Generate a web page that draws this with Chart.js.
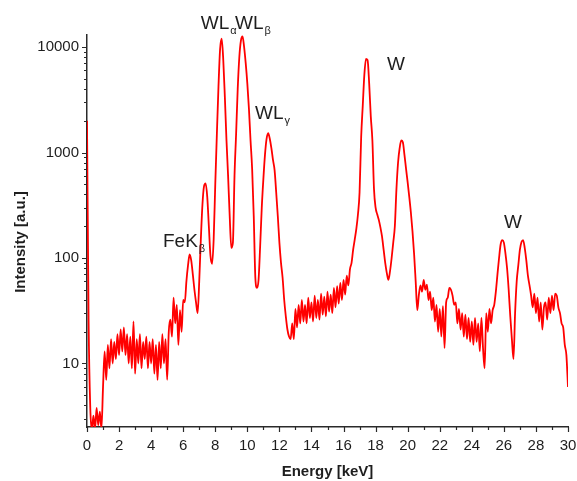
<!DOCTYPE html>
<html>
<head>
<meta charset="utf-8">
<script src="https://cdn.jsdelivr.net/npm/chart.js@4.4.0/dist/chart.umd.min.js"></script>
<style>
  html, body { margin: 0; padding: 0; background: #ffffff; }
  #wrap { width: 577px; height: 481px; position: relative; }
</style>
</head>
<body>
<div id="wrap"><canvas id="spectrum"></canvas></div>
<script>
// Energy calibration of the detector channels (keV per channel, starting at 0 keV)
const keVPerChannel = 0.1;

// Measured counts per channel, 0.0 ... 30.0 keV
const intensity = [
  // 0.0 - 0.9
  2000, 25, 4, 2.3, 3.2, 2.4, 3.8, 2.6, 3.5, 2.4,
  // 1.0 - 1.9
  6, 13, 7, 15, 9, 17, 10, 16, 11, 19,
  // 2.0 - 2.9
  12, 21, 13, 22, 12, 19, 10, 18, 9, 25,
  // 3.0 - 3.9
  8, 17, 10, 19, 9, 16, 11, 18, 9, 16,
  // 4.0 - 4.9
  10, 17, 8, 15, 7, 16, 9, 19, 10, 17,
  // 5.0 - 5.9
  7, 20, 26, 18, 42, 24, 36, 15, 32, 20,
  // 6.0 - 6.9
  40, 38, 60, 85, 108, 95, 70, 50, 38, 30,
  // 7.0 - 7.9
  60, 150, 320, 480, 510, 380, 200, 105, 88, 150,
  // 8.0 - 8.9
  500, 1500, 4200, 9500, 12000, 7500, 3300, 1300, 600, 250,
  // 9.0 - 9.9
  125, 140, 600, 1500, 4000, 8000, 11500, 12600, 10000, 7000,
  // 10.0 - 10.9
  4500, 2600, 1300, 700, 250, 65, 52, 62, 130, 300,
  // 11.0 - 11.9
  560, 950, 1350, 1530, 1350, 1100, 850, 680, 420, 250,
  // 12.0 - 12.9
  140, 90, 65, 40, 28, 21, 18, 17, 24, 17,
  // 13.0 - 13.9
  33, 22, 36, 24, 40, 25, 36, 24, 42, 27,
  // 14.0 - 14.9
  38, 25, 44, 27, 40, 26, 46, 29, 43, 28,
  // 15.0 - 15.9
  48, 31, 45, 30, 52, 34, 54, 37, 58, 40,
  // 16.0 - 16.9
  62, 45, 68, 55, 78, 90, 120, 150, 190, 260,
  // 17.0 - 17.9
  420, 1400, 2800, 5500, 7700, 7500, 4500, 2200, 1300, 450,
  // 18.0 - 18.9
  300, 260, 230, 195, 160, 120, 90, 72, 62, 75,
  // 19.0 - 19.9
  100, 140, 200, 450, 800, 1100, 1300, 1250, 950, 700,
  // 20.0 - 20.9
  520, 380, 270, 180, 110, 60, 32, 45, 55, 48,
  // 21.0 - 21.9
  62, 50, 56, 40, 48, 32, 42, 25, 36, 20,
  // 22.0 - 22.9
  33, 18, 35, 14, 38, 42, 52, 50, 44, 36,
  // 23.0 - 23.9
  38, 24, 33, 21, 30, 18, 29, 17, 27, 16,
  // 24.0 - 24.9
  25, 15, 27, 16, 24, 13, 27, 14, 9, 30,
  // 25.0 - 25.9
  20, 33, 24, 32, 36, 48, 70, 100, 135, 148,
  // 26.0 - 26.9
  140, 110, 80, 50, 28, 17, 11, 30, 60, 85,
  // 27.0 - 27.9
  120, 142, 148, 125, 95, 68, 55, 44, 34, 46,
  // 28.0 - 28.9
  30, 42, 25, 38, 21, 34, 38, 26, 42, 30,
  // 29.0 - 29.9
  44, 32, 46, 44, 34, 30, 24, 22, 15, 12,
  // 30.0
  6
];

// Axis tick labels
const energyTicks = [0, 2, 4, 6, 8, 10, 12, 14, 16, 18, 20, 22, 24, 26, 28, 30];
const intensityTicks = [10, 100, 1000, 10000];

// Line identifications: label text, subscript, anchor energy (keV) and intensity
const peakNames = ['WL', 'WL', 'WL', 'W', 'W', 'FeK'];
const peakSubs = ['\u03B1', '\u03B2', '\u03B3', '', '', '\u03B2'];
const peakEnergy = [7.1, 9.23, 10.48, 18.71, 26.01, 4.74];
const peakIntensity = [14700, 14700, 2100, 6050, 192, 127];

const points = intensity.map((v, i) => ({ x: +(i * keVPerChannel).toFixed(1), y: v }));

const TEXT = '#1e1e1e';
const AXIS = '#2a2a2a';
const FONT = '"Liberation Sans", Arial, sans-serif';

// Short outward tick marks: long at labelled values, short in between
const tickMarks = {
  id: 'tickMarks',
  afterDraw(chart) {
    const { ctx, chartArea, scales: { x, y } } = chart;
    ctx.save();
    ctx.strokeStyle = AXIS;
    ctx.lineWidth = 1.2;
    ctx.beginPath();
    for (let e = 0; e <= 30; e++) {
      const px = Math.round(x.getPixelForValue(e)) + 0.5;
      const len = e % 2 === 0 ? 5 : 3;
      ctx.moveTo(px, chartArea.bottom);
      ctx.lineTo(px, chartArea.bottom + len);
    }
    for (let d = 1; d <= 10000; d *= 10) {
      for (let m = 1; m <= 9; m++) {
        const v = d * m;
        if (v < y.min || v > y.max) continue;
        const py = Math.round(y.getPixelForValue(v)) + 0.5;
        const len = m === 1 ? 5 : 3;
        ctx.moveTo(chartArea.left, py);
        ctx.lineTo(chartArea.left - len, py);
      }
    }
    ctx.stroke();
    ctx.restore();
  }
};

// Y axis title and the peak identifications
const annotations = {
  id: 'annotations',
  afterDraw(chart) {
    const { ctx, scales: { x, y } } = chart;
    ctx.save();
    ctx.fillStyle = TEXT;
    ctx.textBaseline = 'alphabetic';
    ctx.textAlign = 'left';

    // vertical axis title
    ctx.save();
    ctx.translate(25, 242);
    ctx.rotate(-Math.PI / 2);
    ctx.textAlign = 'center';
    ctx.font = 'bold 15px ' + FONT;
    ctx.fillText('Intensity [a.u.]', 0, 0);
    ctx.restore();

    for (let i = 0; i < peakNames.length; i++) {
      const px = x.getPixelForValue(peakEnergy[i]);
      const py = y.getPixelForValue(peakIntensity[i]);
      ctx.font = '19px ' + FONT;
      ctx.fillText(peakNames[i], px, py);
      if (peakSubs[i]) {
        const w = ctx.measureText(peakNames[i]).width;
        ctx.font = '11px ' + FONT;
        ctx.fillText(peakSubs[i], px + w + 1, py + 5);
      }
    }
    ctx.restore();
  }
};

new Chart(document.getElementById('spectrum'), {
  type: 'line',
  data: {
    datasets: [{
      data: points,
      borderColor: '#ff0000',
      borderWidth: 1.8,
      pointRadius: 0,
      cubicInterpolationMode: 'monotone',
      fill: false
    }]
  },
  options: {
    responsive: true,
    maintainAspectRatio: false,
    animation: false,
    devicePixelRatio: 1,
    layout: { padding: { top: 35, right: 9, left: 0, bottom: 0 } },
    plugins: { legend: { display: false }, tooltip: { enabled: false } },
    scales: {
      x: {
        type: 'linear',
        min: 0,
        max: 30,
        grid: { display: false, tickLength: 0 },
        border: { display: true, color: AXIS, width: 1.5 },
        afterBuildTicks: (scale) => { scale.ticks = energyTicks.map(v => ({ value: v })); },
        afterFit: (scale) => {
          scale.height = 54;
          scale.paddingLeft = 0;
          scale.paddingRight = 0;
        },
        ticks: {
          color: TEXT,
          padding: 10,
          maxRotation: 0,
          font: { family: FONT, size: 15 }
        },
        title: {
          display: true,
          text: 'Energy [keV]',
          color: TEXT,
          padding: { top: 4, bottom: 0 },
          font: { family: FONT, size: 15, weight: 'bold' }
        }
      },
      y: {
        type: 'logarithmic',
        min: 2.5,
        max: 13000,
        grid: { display: false, tickLength: 0 },
        border: { display: true, color: AXIS, width: 1.5 },
        afterBuildTicks: (scale) => { scale.ticks = intensityTicks.map(v => ({ value: v })); },
        afterFit: (scale) => {
          scale.width = 87;
          scale.paddingTop = 0;
          scale.paddingBottom = 0;
        },
        ticks: {
          color: TEXT,
          padding: 8,
          font: { family: FONT, size: 15 },
          callback: (v) => String(v)
        }
      }
    }
  },
  plugins: [tickMarks, annotations]
});
</script>
</body>
</html>
